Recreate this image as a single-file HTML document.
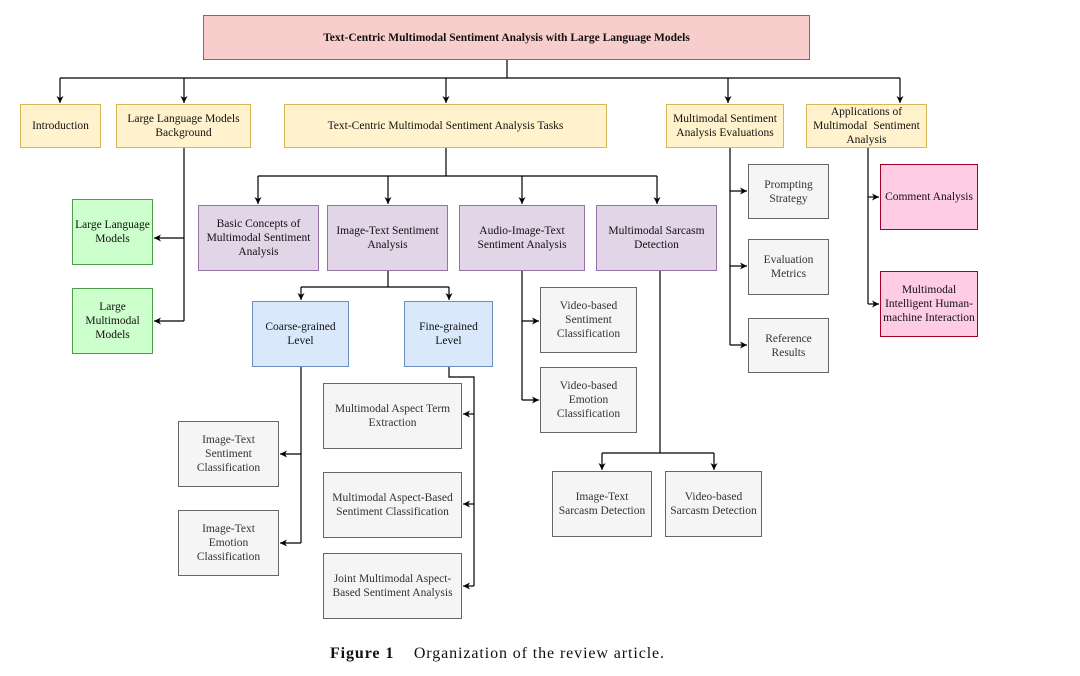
<!DOCTYPE html>
<html><head><meta charset="utf-8"><style>
body{margin:0;width:1080px;height:676px;background:#fff;position:relative;overflow:hidden;font-family:"Liberation Serif",serif;}
.b{position:absolute;box-sizing:border-box;display:flex;align-items:center;justify-content:center;text-align:center;font-size:11.5px;line-height:14px;color:#111;}
.y{background:#fff2cc;border:1.3px solid #d6b656}
.p{background:#e1d5e7;border:1.3px solid #9673a6}
.bl{background:#dae8fc;border:1.3px solid #6c8ebf}
.g{background:#ccffcc;border:1.3px solid #4a9e4a}
.gr{background:#f5f5f5;border:1.3px solid #666;color:#333}
.pk{background:#ffcce6;border:1.3px solid #a20025}
svg{position:absolute;left:0;top:0}
</style></head><body>
<svg width="1080" height="676">
<defs><marker id="a" markerWidth="8" markerHeight="8" refX="7" refY="4" orient="auto" markerUnits="userSpaceOnUse"><path d="M0,0.5 L7,4 L0,7.5 L2,4z" fill="#000"/></marker></defs>
<g stroke="#000" stroke-width="1.2" fill="none">
<path d="M507,60 V78 M60,78 H900"/>
<path d="M60,78 V103" marker-end="url(#a)"/><path d="M184,78 V103" marker-end="url(#a)"/><path d="M446,78 V103" marker-end="url(#a)"/><path d="M728,78 V103" marker-end="url(#a)"/><path d="M900,78 V103" marker-end="url(#a)"/>
<path d="M184,148 V321"/><path d="M184,238 H154" marker-end="url(#a)"/><path d="M184,321 H154" marker-end="url(#a)"/>
<path d="M446,148 V176 M258,176 H657"/>
<path d="M258,176 V204" marker-end="url(#a)"/><path d="M388,176 V204" marker-end="url(#a)"/><path d="M522,176 V204" marker-end="url(#a)"/><path d="M657,176 V204" marker-end="url(#a)"/>
<path d="M388,271 V287 M301,287 H449"/><path d="M301,287 V300" marker-end="url(#a)"/><path d="M449,287 V300" marker-end="url(#a)"/>
<path d="M301,367 V543"/><path d="M301,454 H280" marker-end="url(#a)"/><path d="M301,543 H280" marker-end="url(#a)"/>
<path d="M449,367 V377 H474 V586"/><path d="M474,414 H463" marker-end="url(#a)"/><path d="M474,504 H463" marker-end="url(#a)"/><path d="M474,586 H463" marker-end="url(#a)"/>
<path d="M522,271 V400"/><path d="M522,321 H539" marker-end="url(#a)"/><path d="M522,400 H539" marker-end="url(#a)"/>
<path d="M660,271 V453 M602,453 H714"/><path d="M602,453 V470" marker-end="url(#a)"/><path d="M714,453 V470" marker-end="url(#a)"/>
<path d="M730,148 V345"/><path d="M730,191 H747" marker-end="url(#a)"/><path d="M730,266 H747" marker-end="url(#a)"/><path d="M730,345 H747" marker-end="url(#a)"/>
<path d="M868,148 V304"/><path d="M868,197 H879" marker-end="url(#a)"/><path d="M868,304 H879" marker-end="url(#a)"/>
</g></svg>
<div class="b" style="left:203px;top:15px;width:607px;height:45px;background:#f8cecc;border:1.3px solid #b85450;font-weight:bold">Text-Centric Multimodal Sentiment Analysis with Large Language Models</div>
<div class="b y" style="left:20px;top:104px;width:81px;height:44px">Introduction</div>
<div class="b y" style="left:116px;top:104px;width:135px;height:44px">Large Language Models<br>Background</div>
<div class="b y" style="left:284px;top:104px;width:323px;height:44px">Text-Centric Multimodal Sentiment Analysis Tasks</div>
<div class="b y" style="left:666px;top:104px;width:118px;height:44px">Multimodal Sentiment<br>Analysis Evaluations</div>
<div class="b y" style="left:806px;top:104px;width:121px;height:44px">Applications of<br>Multimodal&nbsp; Sentiment<br>Analysis</div>
<div class="b g" style="left:72px;top:199px;width:81px;height:66px">Large Language<br>Models</div>
<div class="b g" style="left:72px;top:288px;width:81px;height:66px">Large<br>Multimodal<br>Models</div>
<div class="b p" style="left:198px;top:205px;width:121px;height:66px">Basic Concepts of<br>Multimodal Sentiment<br>Analysis</div>
<div class="b p" style="left:327px;top:205px;width:121px;height:66px">Image-Text Sentiment<br>Analysis</div>
<div class="b p" style="left:459px;top:205px;width:126px;height:66px">Audio-Image-Text<br>Sentiment Analysis</div>
<div class="b p" style="left:596px;top:205px;width:121px;height:66px">Multimodal Sarcasm<br>Detection</div>
<div class="b bl" style="left:252px;top:301px;width:97px;height:66px">Coarse-grained<br>Level</div>
<div class="b bl" style="left:404px;top:301px;width:89px;height:66px">Fine-grained<br>Level</div>
<div class="b gr" style="left:178px;top:421px;width:101px;height:66px">Image-Text<br>Sentiment<br>Classification</div>
<div class="b gr" style="left:178px;top:510px;width:101px;height:66px">Image-Text<br>Emotion<br>Classification</div>
<div class="b gr" style="left:323px;top:383px;width:139px;height:66px">Multimodal Aspect Term<br>Extraction</div>
<div class="b gr" style="left:323px;top:472px;width:139px;height:66px">Multimodal Aspect-Based<br>Sentiment Classification</div>
<div class="b gr" style="left:323px;top:553px;width:139px;height:66px">Joint Multimodal Aspect-<br>Based Sentiment Analysis</div>
<div class="b gr" style="left:540px;top:287px;width:97px;height:66px">Video-based<br>Sentiment<br>Classification</div>
<div class="b gr" style="left:540px;top:367px;width:97px;height:66px">Video-based<br>Emotion<br>Classification</div>
<div class="b gr" style="left:552px;top:471px;width:100px;height:66px">Image-Text<br>Sarcasm Detection</div>
<div class="b gr" style="left:665px;top:471px;width:97px;height:66px">Video-based<br>Sarcasm Detection</div>
<div class="b gr" style="left:748px;top:164px;width:81px;height:55px">Prompting<br>Strategy</div>
<div class="b gr" style="left:748px;top:239px;width:81px;height:56px">Evaluation<br>Metrics</div>
<div class="b gr" style="left:748px;top:318px;width:81px;height:55px">Reference<br>Results</div>
<div class="b pk" style="left:880px;top:164px;width:98px;height:66px">Comment Analysis</div>
<div class="b pk" style="left:880px;top:271px;width:98px;height:66px">Multimodal<br>Intelligent Human-<br>machine Interaction</div>
<div style="position:absolute;left:330px;top:645px;font-size:16px;letter-spacing:0.9px;color:#111;white-space:nowrap"><b>Figure 1</b>&nbsp;&nbsp;&nbsp;&nbsp;Organization of the review article.</div>
</body></html>
